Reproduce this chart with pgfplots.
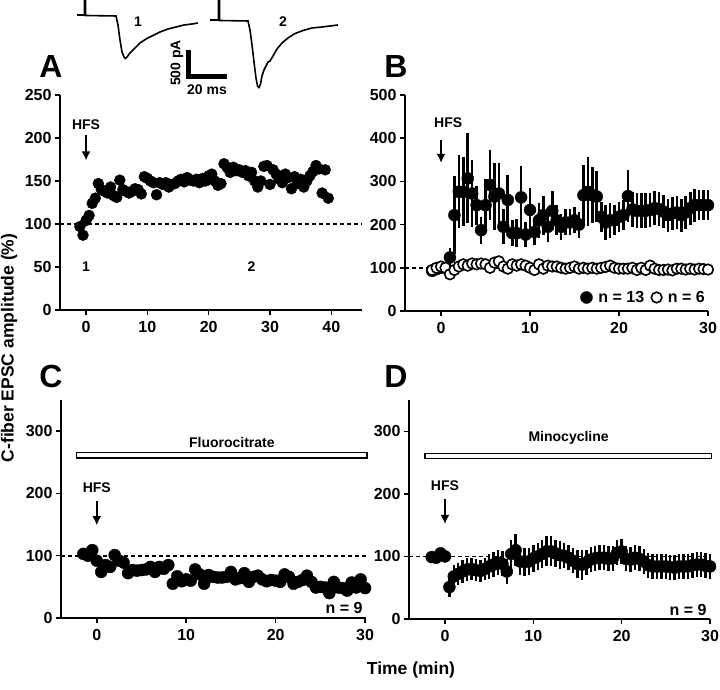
\documentclass[border=0pt]{standalone}
\usepackage{fontspec}
\setmainfont{Liberation Sans}
\usepackage{pgfplots}
\pgfplotsset{compat=1.18}
\usetikzlibrary{arrows.meta}
\newcommand{\fsT}{\fontsize{16}{19}\selectfont\bfseries}
\newcommand{\fsS}{\fontsize{14}{17}\selectfont\bfseries}
\newcommand{\fsL}{\fontsize{32}{37}\selectfont\bfseries}
\newcommand{\fsY}{\fontsize{17.5}{20}\selectfont\bfseries}
\tikzset{hfsarrow/.style={-{Latex[length=9pt,width=9pt]},line width=1.5pt}}
\pgfplotsset{
  panel/.style={
    scale only axis, anchor=south west,
    axis x line=bottom, axis y line=left,
    axis line style={-,line width=1.8pt},
    x axis line style={-}, y axis line style={-},
    tick align=outside, major tick length=5pt,
    major tick style={black,line width=1.5pt},
    tick label style={font=\fsT},
    /pgf/number format/assume math mode=true,
    xticklabel style={yshift=-3pt},
    clip=false, ymin=0,
  },
  dashline/.style={black,line width=1.8pt,dash pattern=on 4pt off 3pt},
}
\begin{document}
\begin{tikzpicture}
\useasboundingbox (0,0) rectangle (720pt,-690pt);
% ---------- example traces ----------
\begin{axis}[at={(0pt,0pt)},anchor=north west,scale only axis,width=720pt,height=690pt,
  xmin=0,xmax=720,ymin=-690,ymax=0,hide axis,clip=false]
\addplot[black,line width=1.6pt] coordinates {
(77,-15) (84.5,-15) (84.5,2) (85.5,2) (85.5,-15.5) (116,-16) (118,-25) (120,-40) (122,-52)
(124,-57) (125.5,-58.5) (127,-57) (130,-53) (134,-49) (140,-43) (146,-39) (152,-36)
(160,-32) (168,-29) (176,-27) (184,-25) (192,-24) (198,-23)};
\addplot[black,line width=1.6pt] coordinates {
(210,-20) (218.5,-20) (218.5,2) (219.5,2) (219.5,-20.5) (248,-21) (250,-30) (252,-45)
(254,-62) (256,-78) (257.5,-86) (259,-87.5) (260.5,-84) (262,-76) (264,-70) (266,-66)
(268,-62) (270,-61) (273,-56) (277,-49) (282,-43) (288,-38) (295,-33.5) (303,-30.5)
(312,-28) (322,-27) (330,-26) (338,-25)};
\addplot[black,line width=5pt] coordinates {(188,-50) (188,-79.5)};
\addplot[black,line width=5pt] coordinates {(185.5,-77) (227,-77)};
\end{axis}
\node[font=\fsS] at (138pt,-22pt) {1};
\node[font=\fsS] at (283pt,-22pt) {2};
\node[font=\fsS,rotate=90] at (177pt,-63pt) {500 pA};
\node[font=\fsS] at (207pt,-90pt) {20 ms};
% panel letters
\node[font=\fsL] at (51pt,-66pt) {A};
\node[font=\fsL] at (396pt,-66pt) {B};
\node[font=\fsL] at (51pt,-376pt) {C};
\node[font=\fsL] at (396pt,-376pt) {D};
\node[font=\fsY,rotate=90] at (9pt,-348pt) {C-fiber EPSC amplitude (\%)};
\node[font=\fsY] at (411pt,-670pt) {Time (min)};
% ---------- Panel A ----------
\begin{axis}[panel,at={(60pt,-310pt)},width=302pt,height=215pt,
  xmin=-4.25,xmax=45,ymax=250,xtick={0,10,20,30,40},ytick={0,50,100,150,200,250}]
\addplot[dashline] coordinates {(-4.25,100) (45,100)};
\addplot[only marks,mark=*,mark size=5.5pt,black] table {
t v
-1 97
-0.5 87
0 104
0.5 110
1 124
1.5 130
2 147
2.5 140
3 138
3.5 136
4 143
4.5 133
5 131
5.5 151
6 140
6.5 138
7 136
7.5 138
8 141
8.5 140
9 135
9.5 155
10 153
10.5 150
11 148
11.5 134
12 148
12.5 146
13 148
13.5 143
14 146
14.5 147
15 150
15.5 152
16 149
16.5 154
17 151
17.5 150
18 152
18.5 148
19 153
19.5 150
20 156
20.5 158
21 150
21.5 145
22 147
22.5 170
23 166
23.5 160
24 166
24.5 162
25 163
25.5 160
26 162
26.5 156
27 160
27.5 150
28 143
28.5 150
29 167
29.5 168
30 146
30.5 163
31 158
31.5 152
32 148
32.5 158
33 154
33.5 141
34 155
34.5 147
35 152
35.5 143
36 150
36.5 156
37 161
37.5 168
38 164
38.5 136
39 163
39.5 130
};
\node[font=\fsS] at (axis cs:0,215) {HFS};
\draw[hfsarrow] (axis cs:0,204) -- (axis cs:0,174);
\node[font=\fsS] at (axis cs:0,50) {1};
\node[font=\fsS] at (axis cs:27,50) {2};
\end{axis}
% ---------- Panel B ----------
\begin{axis}[panel,at={(405pt,-311pt)},width=303pt,height=216pt,
  xmin=-4.05,xmax=30,ymax=500,xtick={0,10,20,30},ytick={0,100,200,300,400,500},
  legend style={at={(axis cs:30,0)},anchor=south east,draw=none,fill=none,
    font=\fsT,inner sep=1pt,yshift=4pt,
    /tikz/every odd column/.append style={column sep=4pt},
    /tikz/every even column/.append style={column sep=5pt}},
  legend columns=2,
  legend image code/.code={\draw[mark repeat=2,mark phase=2,#1] plot coordinates {(0pt,0pt) (6pt,0pt) (12pt,0pt)};}]
\addplot[dashline,forget plot] coordinates {(-4.05,100) (30,100)};
\addplot[only marks,mark=*,mark size=6pt,black,
  error bars/.cd,y dir=both,y explicit,error mark=none,
  error bar style={line width=2.6pt,black}]
 table[x=t,y=v,y error=e] {
t v e
-1 93 6
-0.5 97 6
0 100 6
1 124 22
1.5 222 90
2 276 85
2.5 276 80
3 307 104
3.5 272 78
4 245 45
4.5 187 31
5 245 60
5.5 292 81
6 265 77
6.5 272 70
7 195 40
7.5 257 58
8 180 30
8.5 180 32
9 263 73
9.5 177 30
10 234 50
10.5 183 30
11 210 40
11.5 222 45
12 195 35
12.5 232 45
13 210 35
13.5 195 30
14 205 30
14.5 205 30
15 210 30
15.5 200 30
16 268 70
16.5 276 80
17 268 65
17.5 265 60
18 218 35
18.5 205 40
19 210 40
19.5 210 35
20 218 35
20.5 222 35
21 266 60
21.5 235 40
22 232 40
22.5 232 40
23 232 40
23.5 234 40
24 238 40
24.5 236 40
25 230 38
25.5 222 38
26 226 38
26.5 228 38
27 222 38
27.5 228 38
28 238 38
28.5 245 38
29 245 35
29.5 245 35
30 245 35
};
\addlegendentry{n = 13}
\addplot[only marks,mark=*,mark size=5.3pt,black,mark options={fill=white,line width=1.6pt}] table {
t v
-1 95
-0.5 100
0 103
0.5 100
1 85
1.5 95
2 103
2.5 108
3 105
3.5 110
4 108
4.5 110
5 108
5.5 100
6 112
6.5 115
7 103
7.5 98
8 108
8.5 105
9 108
9.5 105
10 100
10.5 95
11 108
11.5 98
12 105
12.5 103
13 103
13.5 100
14 98
14.5 100
15 103
15.5 98
16 100
16.5 98
17 100
17.5 98
18 100
18.5 102
19 105
19.5 100
20 98
20.5 98
21 98
21.5 100
22 95
22.5 100
23 95
23.5 105
24 98
24.5 95
25 95
25.5 96
26 94
26.5 98
27 98
27.5 96
28 98
28.5 96
29 98
29.5 97
30 96
};
\addlegendentry{n = 6}
\node[font=\fsS] at (axis cs:0.8,435) {HFS};
\draw[hfsarrow] (axis cs:0,396) -- (axis cs:0,343);
\end{axis}
% ---------- Panel C ----------
\begin{axis}[panel,at={(61pt,-618pt)},width=305pt,height=218pt,
  xmin=-4,xmax=30.1,ymax=350,xtick={0,10,20,30},ytick={0,100,200,300}]
\addplot[dashline] coordinates {(-4,100) (30.1,100)};
\addplot[only marks,mark=*,mark size=6pt,black] table {
t v
-1.5 103
-1 100
-0.5 109
0 92
0.5 74
1 85
1.5 82
2 101
2.5 92
3 89
3.5 72
4 77
4.5 76
5 77
5.5 78
6 82
6.5 74
7 82
7.5 79
8 85
8.5 55
9 67
9.5 59
10 62
10.5 60
11 78
11.5 70
12 55
12.5 69
13 66
13.5 65
14 65
14.5 66
15 74
15.5 62
16 64
16.5 72
17 58
17.5 66
18 68
18.5 62
19 59
19.5 61
20 60
20.5 58
21 70
21.5 66
22 55
22.5 58
23 61
23.5 68
24 58
24.5 49
25 50
25.5 49
26 40
26.5 58
27 49
27.5 48
28 44
28.5 57
29 49
29.5 62
30 48
};
\draw[line width=1.4pt,fill=white] (axis cs:-2.3,257) rectangle (axis cs:30.2,266);
\node[font=\fsS] at (axis cs:15.1,282) {Fluorocitrate};
\node[font=\fsS] at (axis cs:0,210) {HFS};
\draw[hfsarrow] (axis cs:0,188) -- (axis cs:0,149);
\node[font=\fsT,anchor=east] at (axis cs:30.1,16) {n = 9};
\end{axis}
% ---------- Panel D ----------
\begin{axis}[panel,at={(409pt,-619pt)},width=301pt,height=219pt,
  xmin=-4.07,xmax=30,ymax=350,xtick={0,10,20,30},ytick={0,100,200,300}]
\addplot[dashline] coordinates {(-4.07,100) (30,100)};
\addplot[only marks,mark=*,mark size=6pt,black,
  error bars/.cd,y dir=both,y explicit,error mark=none,
  error bar style={line width=2.4pt,black}]
 table[x=t,y=v,y error=e] {
t v e
-1.5 99 3
-1 98 3
-0.5 105 3
0 100 3
0.5 51 16
1 68 18
1.5 72 18
2 76 18
2.5 79 18
3 80 18
3.5 78 18
4 77 18
4.5 80 18
5 84 20
5.5 87 20
6 90 20
6.5 88 20
7 76 20
7.5 104 22
8 110 26
8.5 92 22
9 91 22
9.5 92 22
10 97 22
10.5 100 22
11 104 22
11.5 108 24
12 108 24
12.5 105 22
13 102 22
13.5 101 20
14 98 20
14.5 93 20
15 88 22
15.5 87 24
16 90 20
16.5 95 20
17 97 20
17.5 98 20
18 98 20
18.5 96 20
19 97 20
19.5 106 20
20 108 20
20.5 96 20
21 95 20
21.5 98 20
22 96 20
22.5 92 20
23 86 20
23.5 84 20
24 84 20
24.5 84 20
25 84 20
25.5 83 20
26 82 20
26.5 84 20
27 84 20
27.5 84 20
28 86 20
28.5 87 20
29 87 20
29.5 85 20
30 84 20
};
\draw[line width=1.4pt,fill=white] (axis cs:-2.26,256.5) rectangle (axis cs:30.2,264.5);
\node[font=\fsS] at (axis cs:14,289) {Minocycline};
\node[font=\fsS] at (axis cs:0,213) {HFS};
\draw[hfsarrow] (axis cs:0,191) -- (axis cs:0,152);
\node[font=\fsT,anchor=east] at (axis cs:30,15) {n = 9};
\end{axis}
\end{tikzpicture}
\end{document}
